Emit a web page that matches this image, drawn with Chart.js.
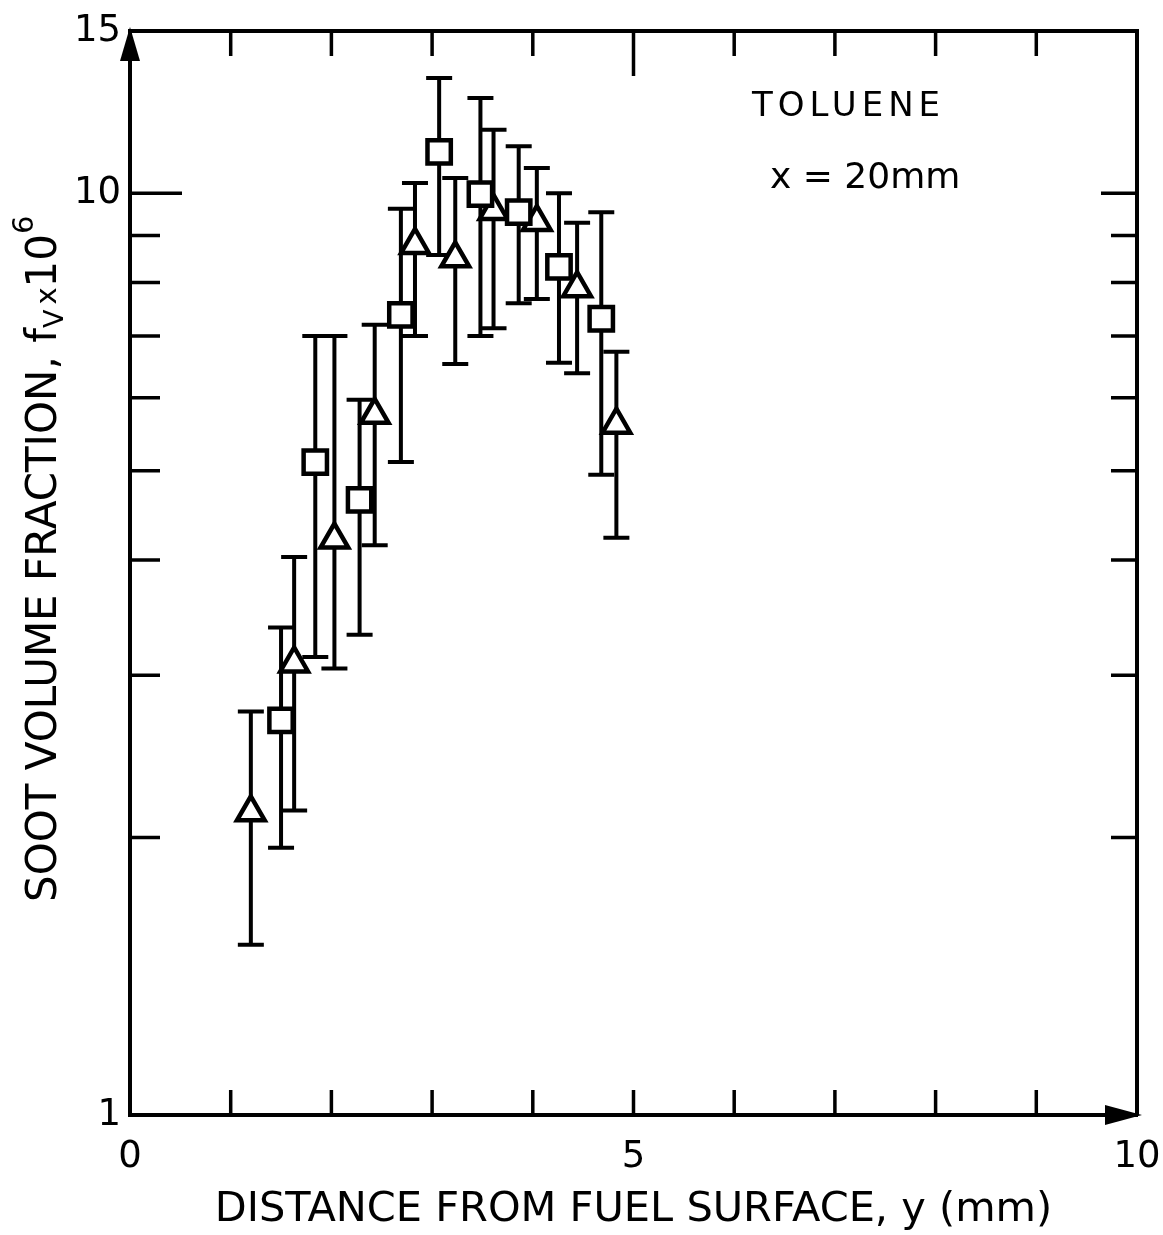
<!DOCTYPE html>
<html>
<head>
<meta charset="utf-8">
<title>Soot volume fraction - toluene</title>
<script src="https://cdn.jsdelivr.net/npm/chart.js@4/dist/chart.umd.min.js"></script>
<style>
  html, body { margin: 0; padding: 0; background: #fff; }
  #wrap { width: 1163px; height: 1235px; position: relative; }
</style>
</head>
<body>
<div id="wrap"><canvas id="sootChart"></canvas></div>
<script>
// squares: distance y (mm), soot volume fraction fv x 10^6, error bar ends
const squareDist = [1.50, 1.84, 2.28, 2.69, 3.07, 3.48, 3.86, 4.26, 4.68];
const squareFv   = [2.68, 5.11, 4.65, 7.38, 11.09, 9.98, 9.54, 8.32, 7.31];
const squareLow  = [1.95, 3.14, 3.32, 5.11, 8.57, 7.00, 7.60, 6.55, 4.95];
const squareHigh = [3.38, 7.00, 5.97, 9.62, 13.34, 12.69, 11.25, 10.00, 9.54];

// triangles
const triDist = [1.20, 1.63, 2.03, 2.43, 2.83, 3.23, 3.61, 4.04, 4.44, 4.83];
const triFv   = [2.13, 3.09, 4.21, 5.75, 8.79, 8.50, 9.57, 9.31, 7.89, 5.61];
const triLow  = [1.53, 2.14, 3.05, 4.15, 7.00, 6.53, 7.14, 7.68, 6.38, 4.23];
const triHigh = [2.74, 4.03, 7.00, 7.20, 10.26, 10.39, 11.72, 10.65, 9.29, 6.73];

// axes
const xTickMarks = [1, 2, 3, 4, 5, 6, 7, 8, 9];
const xTickLabels = [0, 5, 10];
const yTickMarks = [2, 3, 4, 5, 6, 7, 8, 9, 10];
const yTickLabels = [1, 10, 15];

const FONT = "'DejaVu Sans', sans-serif";

const toPoints = (xs, ys) => xs.map((v, i) => ({ x: v, y: ys[i] }));

// error bars go under the markers, frame / ticks / labels on top
const sootPlugin = {
  id: 'sootPlugin',
  beforeDatasetsDraw(chart) {
    const { ctx, scales: { x, y } } = chart;
    ctx.save();
    ctx.strokeStyle = '#000';
    ctx.lineWidth = 4;
    const bars = (xs, lows, highs) => {
      xs.forEach((v, i) => {
        const px = x.getPixelForValue(v);
        const top = y.getPixelForValue(highs[i]);
        const bot = y.getPixelForValue(lows[i]);
        ctx.beginPath();
        ctx.moveTo(px, top);
        ctx.lineTo(px, bot);
        ctx.moveTo(px - 13, top);
        ctx.lineTo(px + 13, top);
        ctx.moveTo(px - 13, bot);
        ctx.lineTo(px + 13, bot);
        ctx.stroke();
      });
    };
    bars(squareDist, squareLow, squareHigh);
    bars(triDist, triLow, triHigh);
    ctx.restore();
  },
  afterDraw(chart) {
    const { ctx, chartArea: a, scales: { x, y } } = chart;
    ctx.save();
    ctx.strokeStyle = '#000';
    ctx.fillStyle = '#000';
    ctx.lineWidth = 4;

    // top and right edges of the frame
    ctx.beginPath();
    ctx.moveTo(a.left, a.top);
    ctx.lineTo(a.right, a.top);
    ctx.lineTo(a.right, a.bottom);
    ctx.stroke();

    // inward tick marks
    ctx.lineWidth = 3.5;
    ctx.beginPath();
    xTickMarks.forEach(v => {
      const px = x.getPixelForValue(v);
      ctx.moveTo(px, a.bottom);
      ctx.lineTo(px, a.bottom - 25);
      ctx.moveTo(px, a.top);
      ctx.lineTo(px, a.top + (v === 5 ? 45 : 25));
    });
    yTickMarks.forEach(v => {
      const py = y.getPixelForValue(v);
      const len = v === 10 ? 52 : 30;
      ctx.moveTo(a.left, py);
      ctx.lineTo(a.left + len, py);
      ctx.moveTo(a.right, py);
      ctx.lineTo(a.right - (v === 10 ? 36 : 26), py);
    });
    ctx.stroke();

    // axis arrows
    ctx.beginPath();
    ctx.moveTo(a.left, a.top - 4);
    ctx.lineTo(a.left - 10, a.top + 30);
    ctx.lineTo(a.left + 10, a.top + 30);
    ctx.closePath();
    ctx.fill();
    ctx.beginPath();
    ctx.moveTo(a.right + 5, a.bottom);
    ctx.lineTo(a.right - 32, a.bottom - 10);
    ctx.lineTo(a.right - 32, a.bottom + 10);
    ctx.closePath();
    ctx.fill();

    // annotation
    ctx.textAlign = 'left';
    ctx.textBaseline = 'alphabetic';
    ctx.font = '34px ' + FONT;
    ctx.letterSpacing = '5px';
    ctx.fillText('TOLUENE', 752, 116);
    ctx.letterSpacing = '0px';
    ctx.font = '36px ' + FONT;
    ctx.fillText('x = 20mm', 770, 188);

    // y axis title with subscript and superscript
    ctx.translate(56, 902);
    ctx.rotate(-Math.PI / 2);
    let cx = 0;
    const part = (txt, size, dy) => {
      ctx.font = size + 'px ' + FONT;
      ctx.fillText(txt, cx, dy);
      cx += ctx.measureText(txt).width;
    };
    part('SOOT VOLUME FRACTION, f', 42, 0);
    part('V', 27, 7);
    cx += 5;
    part('x', 29, 0);
    part('10', 42, 0);
    part('6', 29, -23);
    ctx.restore();
  }
};

new Chart(document.getElementById('sootChart'), {
  type: 'scatter',
  data: {
    datasets: [
      {
        label: 'squares',
        data: toPoints(squareDist, squareFv),
        pointStyle: 'rect',
        pointRadius: 16.5,
        borderColor: '#000',
        backgroundColor: '#fff',
        borderWidth: 4.5,
        clip: false
      },
      {
        label: 'triangles',
        data: toPoints(triDist, triFv),
        pointStyle: 'triangle',
        pointRadius: 16,
        borderColor: '#000',
        backgroundColor: '#fff',
        borderWidth: 4.5,
        clip: false
      }
    ]
  },
  options: {
    responsive: true,
    maintainAspectRatio: false,
    animation: false,
    events: [],
    layout: { padding: { left: 0, top: 31, right: 26, bottom: 0 } },
    plugins: {
      legend: { display: false },
      tooltip: { enabled: false }
    },
    scales: {
      x: {
        type: 'linear',
        min: 0,
        max: 10,
        grid: { display: false, drawTicks: false },
        border: { display: true, color: '#000', width: 4 },
        ticks: {
          stepSize: 1,
          autoSkip: false,
          maxRotation: 0,
          padding: 20,
          color: '#000',
          font: { family: FONT, size: 37 },
          callback: v => xTickLabels.includes(v) ? String(v) : ''
        },
        title: {
          display: true,
          text: 'DISTANCE FROM FUEL SURFACE, y (mm)',
          color: '#000',
          font: { family: FONT, size: 41.5 },
          padding: { top: 0, bottom: 0 }
        },
        afterFit(scale) {
          scale.height = 120;
          scale.paddingLeft = 0;
          scale.paddingRight = 0;
        }
      },
      y: {
        type: 'logarithmic',
        min: 1,
        max: 15,
        grid: { display: false, drawTicks: false },
        border: { display: true, color: '#000', width: 4 },
        afterBuildTicks(scale) {
          scale.ticks = [1].concat(yTickMarks, [15]).map(v => ({ value: v }));
        },
        ticks: {
          autoSkip: false,
          padding: 9,
          color: '#000',
          font: { family: FONT, size: 37 },
          callback: v => yTickLabels.includes(v) ? String(v) : ''
        },
        afterFit(scale) {
          scale.width = 130;
          scale.paddingTop = 0;
          scale.paddingBottom = 0;
        }
      }
    }
  },
  plugins: [sootPlugin]
});
</script>
</body>
</html>
